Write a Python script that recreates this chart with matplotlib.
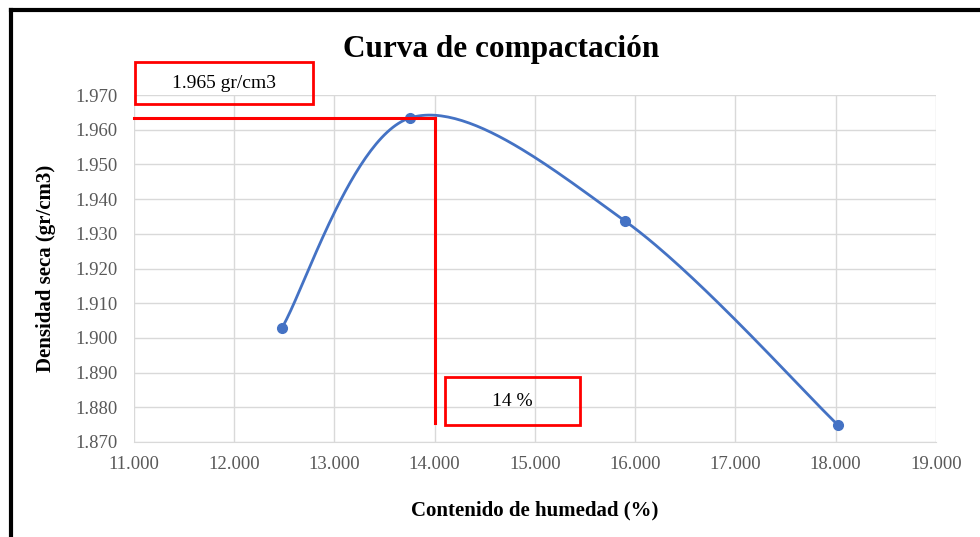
import numpy as np
import matplotlib
matplotlib.use("Agg")
import matplotlib.pyplot as plt
from matplotlib.patches import Rectangle
from matplotlib.lines import Line2D

# datos del ensayo Proctor
humedad = [12.476, 13.753, 15.898, 18.022]
densidad = [1.9029, 1.9634, 1.9337, 1.8749]

# optimo
hum_opt = 14.0
dens_opt = 1.9635
texto_dens = "1.965 gr/cm3"
texto_hum = "14 %"

xticks = np.arange(11, 19.01, 1.0)
yticks = np.arange(1.870, 1.9701, 0.010)


def suavizar(x, y, n=60):
    # curva suavizada estilo Excel (Catmull-Rom)
    x = np.asarray(x, float)
    y = np.asarray(y, float)
    px = np.r_[x[0], x, x[-1]]
    py = np.r_[y[0], y, y[-1]]
    xs, ys = [], []
    for i in range(1, len(px) - 2):
        p0, p1, p2, p3 = [np.array([px[j], py[j]]) for j in (i - 1, i, i + 1, i + 2)]
        c1 = p1 + (p2 - p0) / 6
        c2 = p2 - (p3 - p1) / 6
        t = np.linspace(0, 1, n)[:, None]
        b = (1 - t) ** 3 * p1 + 3 * (1 - t) ** 2 * t * c1 + 3 * (1 - t) * t ** 2 * c2 + t ** 3 * p2
        xs.extend(b[:, 0])
        ys.extend(b[:, 1])
    return np.array(xs), np.array(ys)


fig = plt.figure(figsize=(9.8, 5.37), dpi=100)
ax = fig.add_axes([0.1367, 0.177, 0.8183, 0.646])

ax.set_xlim(11, 19)
ax.set_ylim(1.870, 1.970)
ax.set_xticks(xticks)
ax.set_yticks(yticks)
ax.set_xticklabels([f"{v:.3f}" for v in xticks])
ax.set_yticklabels([f"{v:.3f}" for v in yticks])
ax.grid(True, color="#d9d9d9", linewidth=1.0)
ax.set_axisbelow(True)
for s in ["top", "right", "left"]:
    ax.spines[s].set_visible(False)
ax.spines["bottom"].set_color("#d9d9d9")
ax.tick_params(length=0, labelsize=13.5, labelcolor="#595959")
ax.tick_params(axis="x", pad=10)
ax.tick_params(axis="y", pad=12)
for lab in ax.get_xticklabels() + ax.get_yticklabels():
    lab.set_family("Liberation Serif")

xs, ys = suavizar(humedad, densidad)
ax.plot(xs, ys, color="#4472C4", linewidth=2.0, zorder=3)
ax.plot(humedad, densidad, "o", color="#4472C4", markersize=7, zorder=4)

# lineas rojas del optimo
ax.plot([11, hum_opt], [dens_opt, dens_opt], color="#ff0000", linewidth=2.2, zorder=5, clip_on=False)
ax.plot([hum_opt, hum_opt], [dens_opt, 1.8755], color="#ff0000", linewidth=2.2, zorder=5)

# cuadros de texto
ax.add_patch(Rectangle((11.01, 1.9674), 1.78, 0.0121, fill=False, edgecolor="#ff0000",
                       linewidth=2, clip_on=False, zorder=6))
ax.text(11.01 + 0.89, 1.9734, texto_dens, ha="center", va="center", fontsize=14,
        family="Liberation Serif", clip_on=False)
ax.add_patch(Rectangle((14.10, 1.8749), 1.35, 0.0138, fill=False, edgecolor="#ff0000",
                       linewidth=2, zorder=6))
ax.text(14.10 + 0.675, 1.8818, texto_hum, ha="center", va="center", fontsize=14,
        family="Liberation Serif")

fig.text(0.511, 0.907, "Curva de compactación", ha="center", va="center", fontsize=22.5,
         fontweight="bold", family="Liberation Serif")
ax.set_xlabel("Contenido de humedad (%)", fontsize=15, fontweight="bold",
              family="Liberation Serif", labelpad=20)
ax.set_ylabel("Densidad seca (gr/cm3)", fontsize=15, fontweight="bold",
              family="Liberation Serif", labelpad=14)

# marco negro de la imagen
fig.add_artist(Line2D([0.0112, 0.0112], [0, 0.982], color="black", linewidth=3, transform=fig.transFigure))
fig.add_artist(Line2D([0.0112, 1.0], [0.982, 0.982], color="black", linewidth=3, transform=fig.transFigure))

fig.savefig("out.png", dpi=100)
